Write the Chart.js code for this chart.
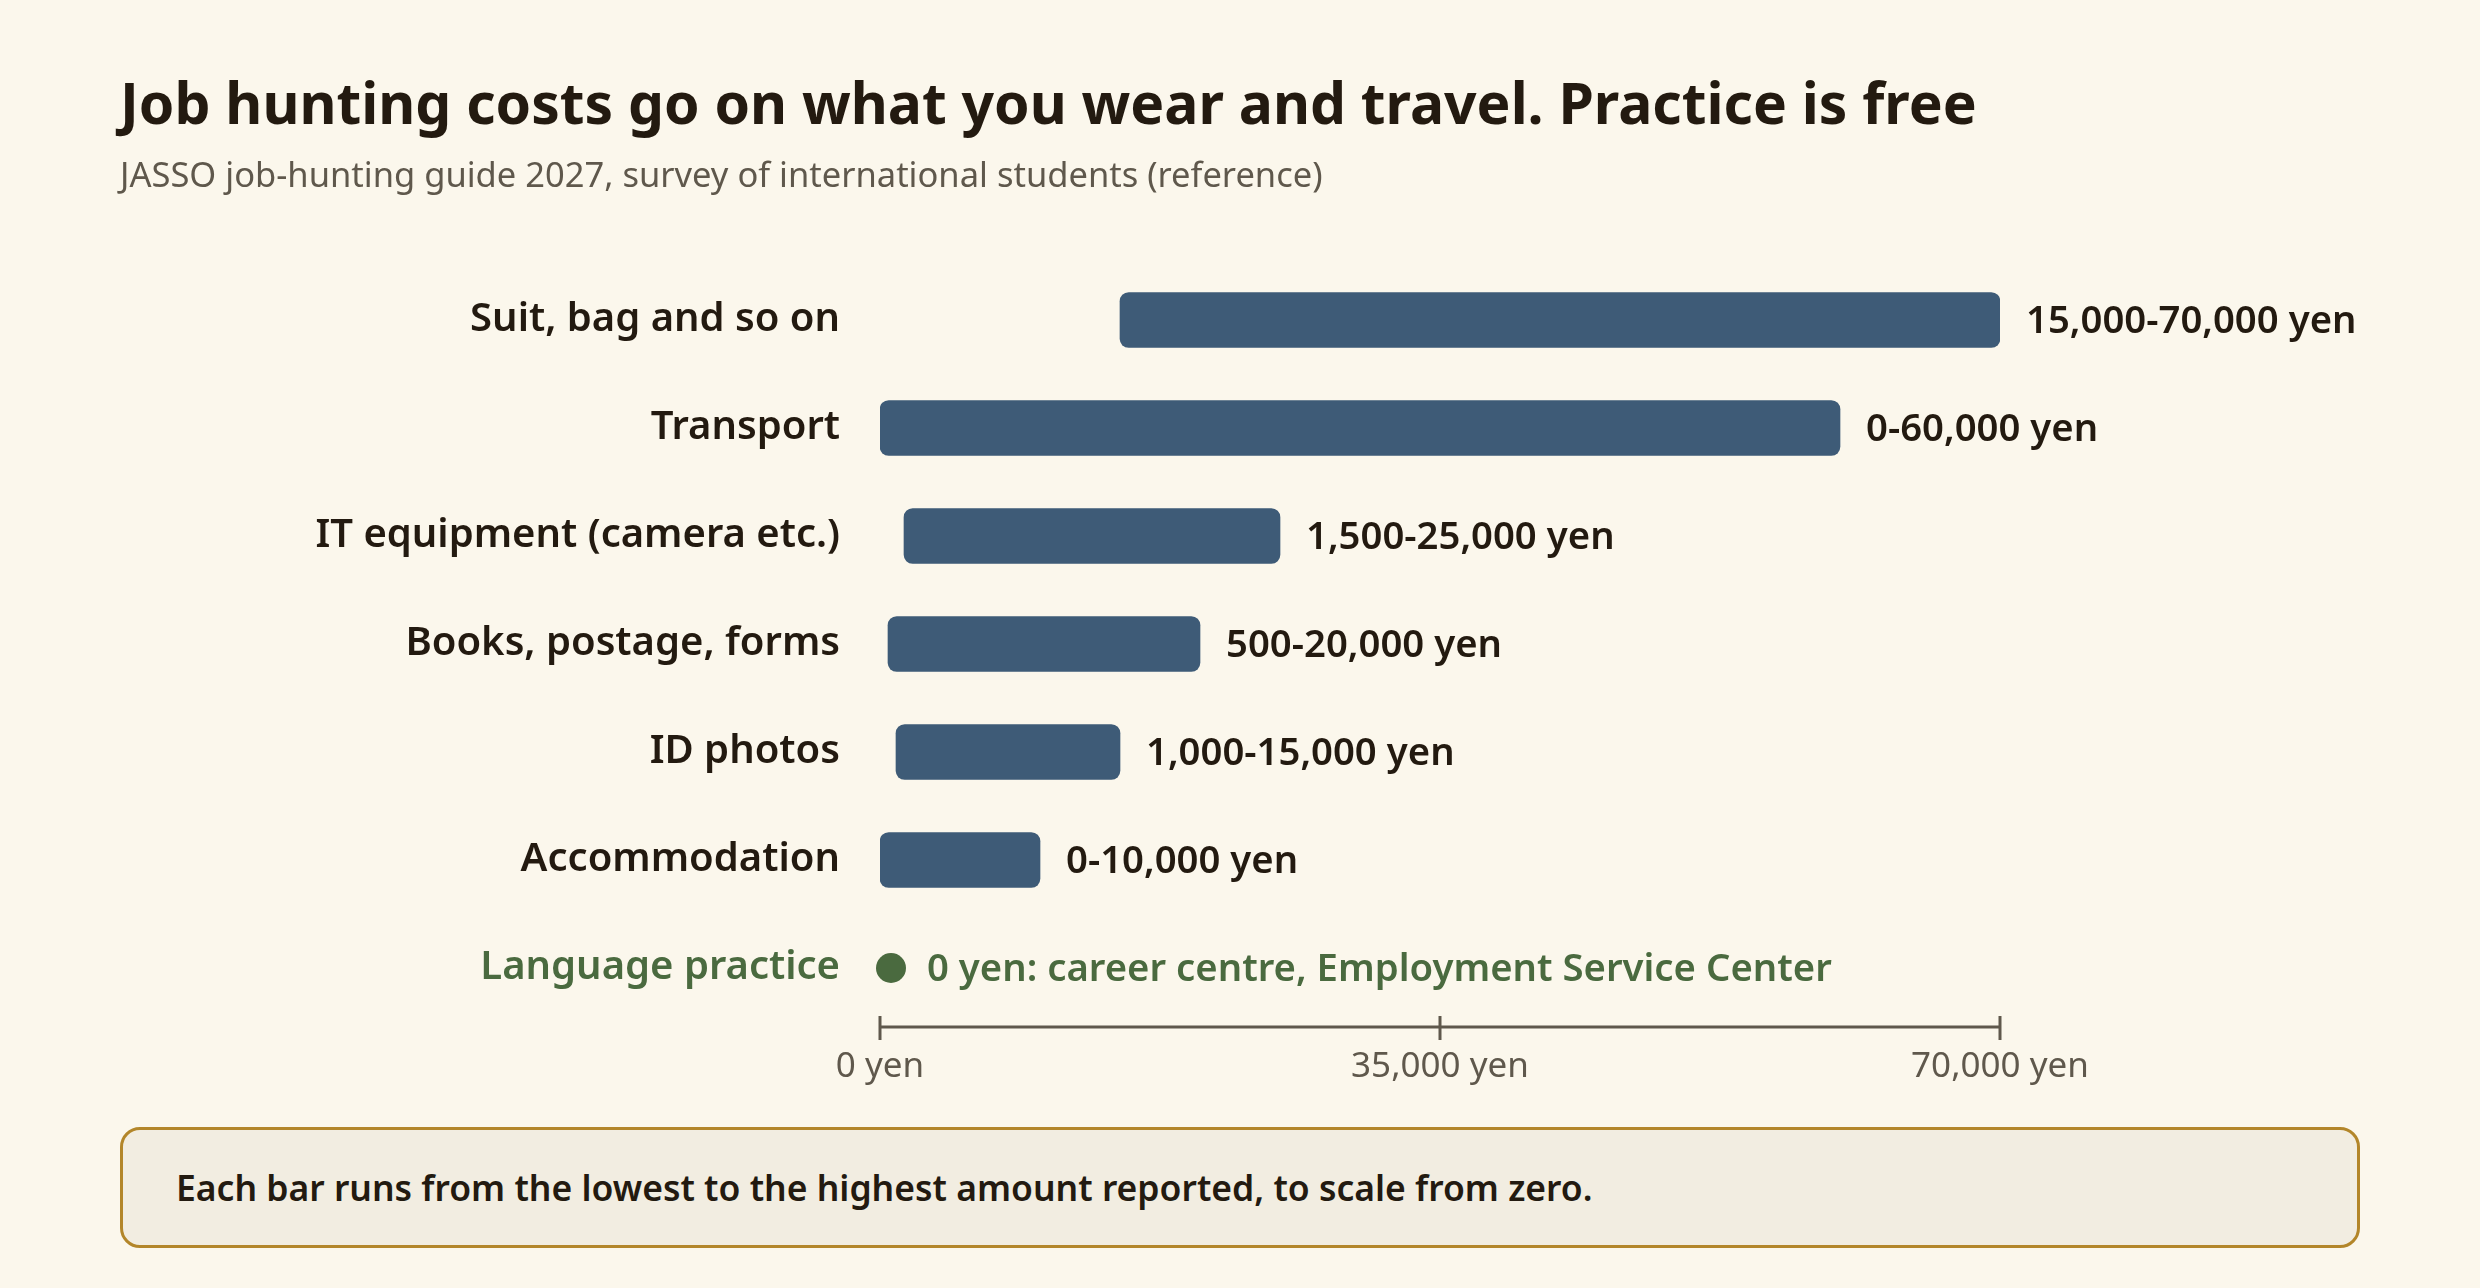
<!DOCTYPE html>
<html><head><meta charset="utf-8">
<script src="https://cdn.jsdelivr.net/npm/chart.js@4.4.1/dist/chart.umd.min.js"></script>
<style>
html,body{margin:0;padding:0;background:#fbf7ec;}
#wrap{position:relative;width:2480px;height:1288px;overflow:hidden;font-family:"Noto Sans",sans-serif;background:#fbf7ec;}
#title{position:absolute;left:120px;top:74px;font-size:57px;line-height:57px;font-weight:700;color:#231a10;white-space:nowrap;}
#subtitle{position:absolute;left:120px;top:157px;font-size:34.5px;line-height:34.5px;font-weight:400;color:#5f584c;white-space:nowrap;}
#chartbox{position:absolute;left:0;top:0;width:2480px;height:1288px;}
#note{position:absolute;left:120px;top:1127px;width:2234px;height:115px;border:3px solid #b3862a;border-radius:20px;background:#f2ede1;display:flex;align-items:center;box-sizing:content-box;}
#note span{margin-left:53px;font-size:35.5px;line-height:35.5px;font-weight:600;color:#231a10;white-space:nowrap;}
</style></head>
<body>
<div id="wrap">
  <div id="chartbox"><canvas id="c" width="2480" height="1288"></canvas></div>
  <div id="title">Job hunting costs go on what you wear and travel. Practice is free</div>
  <div id="subtitle">JASSO job-hunting guide 2027, survey of international students (reference)</div>
  <div id="note"><span>Each bar runs from the lowest to the highest amount reported, to scale from zero.</span></div>
</div>
<script>
const categories = ["Suit, bag and so on","Transport","IT equipment (camera etc.)","Books, postage, forms","ID photos","Accommodation","Language practice"];
const lowValues  = [15000, 0, 1500, 500, 1000, 0, null];
const highValues = [70000, 60000, 25000, 20000, 15000, 10000, null];
const freeValues = [null, null, null, null, null, null, 0];
const valueLabels = ["15,000-70,000 yen","0-60,000 yen","1,500-25,000 yen","500-20,000 yen","1,000-15,000 yen","0-10,000 yen","0 yen: career centre, Employment Service Center"];
const tickValues = [0, 35000, 70000];
const tickLabels = ["0 yen","35,000 yen","70,000 yen"];

const FONT = '"Noto Sans", sans-serif';
const DARK = '#231a10';
const GREEN = '#4a6a3f';
const BAR = '#3e5b77';
const AXIS = '#5f584c';

// dot image: circle drawn right of point centre so it starts at the zero line
const R = 15, OFF = 11;
const dot = document.createElement('canvas');
dot.width = 2 * (R + OFF) + 2; dot.height = 2 * R + 2;
(function(){ const g = dot.getContext('2d'); g.fillStyle = GREEN; g.beginPath(); g.arc(dot.width/2 + OFF, dot.height/2, R, 0, Math.PI*2); g.fill(); })();

const overlay = {
  id: 'overlay',
  afterDatasetsDraw(chart) {
    const ctx = chart.ctx, x = chart.scales.x, y = chart.scales.y;
    const ay = chart.chartArea.bottom + 5;
    ctx.save();
    ctx.strokeStyle = AXIS; ctx.lineWidth = 3;
    ctx.beginPath(); ctx.moveTo(x.getPixelForValue(tickValues[0]), ay); ctx.lineTo(x.getPixelForValue(tickValues[tickValues.length-1]), ay); ctx.stroke();
    tickValues.forEach(v => { const px = x.getPixelForValue(v); ctx.beginPath(); ctx.moveTo(px, ay - 11); ctx.lineTo(px, ay + 13); ctx.stroke(); });
    ctx.textBaseline = 'middle'; ctx.textAlign = 'left';
    categories.forEach((c, i) => {
      const py = y.getPixelForValue(i) + 2;
      if (highValues[i] !== null) {
        ctx.fillStyle = DARK; ctx.font = '600 38.3px ' + FONT;
        ctx.fillText(valueLabels[i], x.getPixelForValue(highValues[i]) + 26, py);
      } else {
        ctx.fillStyle = GREEN; ctx.font = '600 38.3px ' + FONT;
        ctx.fillText(valueLabels[i], x.getPixelForValue(freeValues[i]) + 47, py);
      }
    });
    ctx.restore();
  }
};

new Chart(document.getElementById('c'), {
  type: 'bar',
  data: {
    labels: categories,
    datasets: [{
      data: lowValues.map((l, i) => l === null ? null : [l, highValues[i]]),
      backgroundColor: BAR,
      borderRadius: 9,
      borderSkipped: false,
      barThickness: 55
    }, {
      type: 'line',
      indexAxis: 'y',
      data: freeValues,
      showLine: false,
      clip: false,
      pointStyle: dot,
      pointRadius: R,
      pointHoverRadius: R
    }]
  },
  options: {
    indexAxis: 'y',
    responsive: false,
    animation: false,
    devicePixelRatio: 1,
    layout: { padding: { left: 0, top: 266, right: 480, bottom: 166 } },
    plugins: { legend: { display: false }, tooltip: { enabled: false } },
    scales: {
      x: {
        type: 'linear', min: 0, max: 70000,
        grid: { display: false, drawTicks: false },
        border: { display: false },
        afterBuildTicks: s => { s.ticks = tickValues.map(v => ({ value: v })); },
        afterFit: s => { s.height = 100; },
        ticks: {
          padding: 24,
          color: AXIS,
          font: { family: FONT, size: 35, weight: 400 },
          callback: (v, i) => tickLabels[i]
        }
      },
      y: {
        type: 'category', offset: true,
        grid: { display: false, drawTicks: false },
        border: { display: false },
        afterFit: s => { s.width = 880; },
        ticks: {
          padding: 40,
          color: c => c.index === 6 ? GREEN : DARK,
          font: { family: FONT, size: 40, weight: 600 }
        }
      }
    }
  },
  plugins: [overlay]
});
</script>
</body></html>
